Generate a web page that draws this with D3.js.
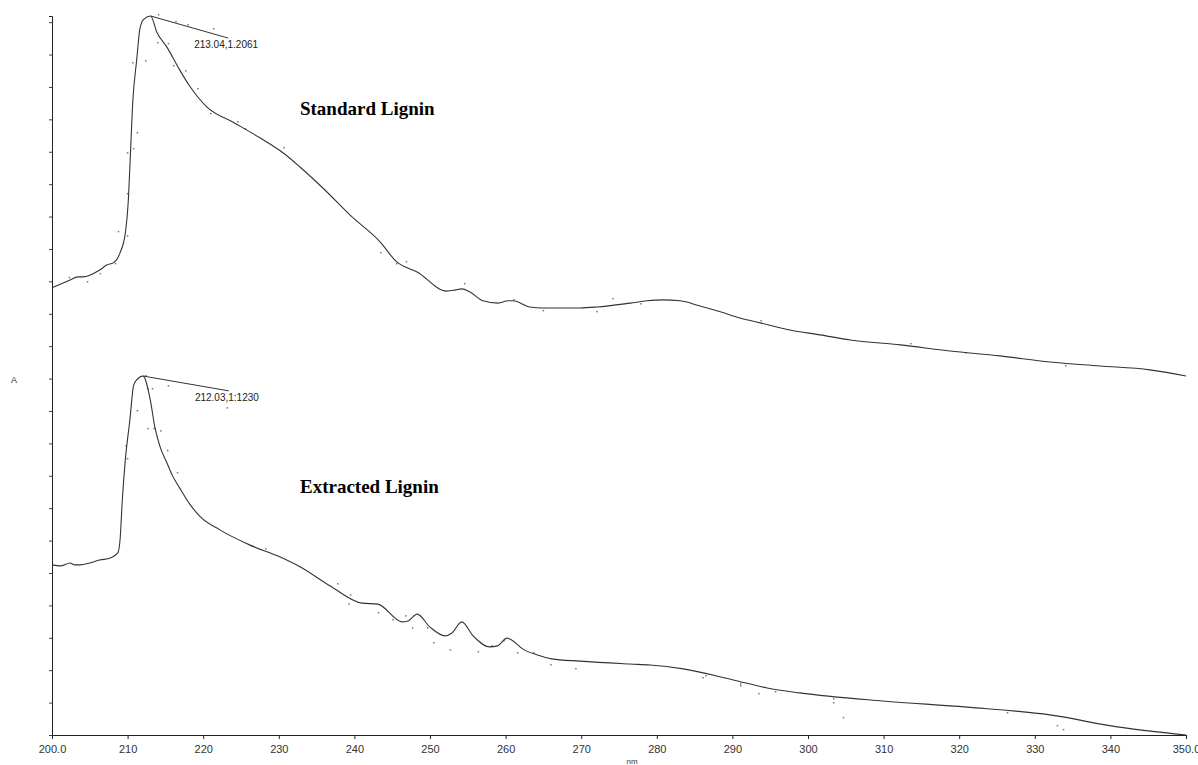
<!DOCTYPE html>
<meta charset="utf-8">
<html>
<script src="https://d3js.org/d3.v7.min.js"></script>
<style>
  body { margin: 0; background: #fff; }
</style>
<div id="uv"></div>
<script>

// wavelength (nm) and absorbance in chart units (traces are offset)
var stdNm  = [200.0,202.4,203.4,204.1,206.3,207.3,208.1,209.0,209.7,210.1,210.3,210.7,211.2,211.6,211.9,212.2,213.04,213.9,215.2,216.9,218.3,220.5,223.9,227.5,230.6,232.8,236.1,239.4,243.4,245.6,248.3,252.2,253.3,254.2,255.3,257.0,259.0,260.3,261.0,263.2,264.9,269.8,272.1,276.5,278.7,280.8,283.1,285.7,288.4,291.0,293.7,297.6,301.6,305.6,312.2,318.8,325.4,332.0,338.6,345.2,350.0];
var stdAbs = [13.80,14.04,14.14,14.14,14.35,14.51,14.57,14.88,15.49,16.51,17.53,19.60,20.83,21.76,22.01,22.10,22.19,21.67,21.23,20.52,20.00,19.38,18.92,18.43,17.96,17.53,16.82,16.05,15.22,14.60,14.29,13.70,13.73,13.77,13.67,13.40,13.33,13.40,13.40,13.21,13.18,13.18,13.21,13.33,13.40,13.43,13.40,13.24,13.06,12.87,12.72,12.50,12.35,12.19,12.04,11.85,11.70,11.51,11.39,11.27,11.08];

var extNm  = [200.0,201.1,202.4,203.0,203.7,205.0,206.3,207.7,208.7,209.0,209.3,209.7,210.3,210.8,211.2,212.03,213.0,213.6,214.3,215.2,215.9,216.9,218.3,219.6,222.2,226.2,230.2,232.8,236.8,241.0,243.1,246.3,247.1,248.3,250.0,252.0,252.9,254.2,255.7,257.9,258.9,260.2,260.8,262.3,264.2,266.1,269.8,276.5,279.1,283.5,290.1,294.6,298.9,309.9,321.0,332.0,340.9,350.0];
var extAbs = [5.25,5.22,5.31,5.25,5.25,5.31,5.40,5.46,5.62,6.02,7.25,8.49,9.72,10.80,10.96,11.08,10.34,9.51,8.89,8.40,8.02,7.62,7.10,6.74,6.33,5.86,5.49,5.19,4.60,4.07,4.04,3.49,3.52,3.73,3.33,3.06,3.15,3.49,3.06,2.72,2.75,2.99,2.93,2.65,2.47,2.35,2.28,2.19,2.16,2.04,1.70,1.45,1.30,1.05,0.86,0.62,0.25,0.00];

// raw scan points scattered around the smoothed traces
var stdDotNm  = [214.0,216.3,217.9,221.3,210.6,212.3,213.9,215.3,216.0,217.6,219.2,220.9,224.5,225.5,230.6,209.9,210.7,211.2,209.9,208.7,209.9,202.2,204.6,206.3,208.3,243.4,245.5,246.8,254.5,261.0,264.9,272.0,274.1,277.8,293.7,313.5,320.8,334.0];
var stdDotAbs = [22.25,22.04,21.94,21.82,20.77,20.83,21.39,21.36,20.68,20.52,19.97,19.20,18.95,18.73,18.15,17.99,18.12,18.61,16.73,15.56,15.43,14.14,14.01,14.26,14.57,14.91,14.57,14.63,13.95,13.46,13.12,13.09,13.49,13.33,12.81,12.10,11.82,11.42];
var extDotNm  = [212.3,212.6,213.2,209.7,209.9,211.2,213.4,214.3,215.2,216.5,223.1,215.3,212.6,228.2,237.7,239.4,239.2,243.1,245.0,246.7,247.6,249.6,250.4,252.6,256.3,258.1,259.7,261.5,263.6,265.9,269.2,286.0,286.4,291.0,291.0,293.4,295.6,303.3,303.3,304.6,326.3,332.9,333.7,349.2];
var extDotAbs = [11.11,10.71,10.71,8.95,8.55,10.03,9.48,9.41,8.80,8.12,10.12,10.80,9.48,5.77,4.69,4.35,4.07,3.80,3.58,3.70,3.33,3.33,2.87,2.65,2.59,2.78,2.93,2.56,2.56,2.19,2.07,1.79,1.85,1.54,1.60,1.30,1.36,1.14,1.02,0.56,0.71,0.31,0.19];

// peak markers: peak position, end of leader line, label
var peakNm    = [213.04, 212.03];
var peakAbs   = [22.19, 11.08];
var leaderNm  = [223.3, 223.4];
var leaderAbs = [21.51, 10.62];
var peakText  = ["213.04,1.2061", "212.03,1:1230"];

var traceNames = ["Standard Lignin", "Extracted Lignin"];
var nameNm  = [232.8, 232.8];
var nameAbs = [19.15, 7.48];

var xTicks = d3.range(200, 351, 10);
var yTicks = d3.range(0, 23, 1);

var width = 1198,
    height = 765;

var svg = d3.select("#uv")
  .append("svg")
    .attr("width", width)
    .attr("height", height);

var x = d3.scaleLinear().domain([200, 350]).range([52, 1186]);
var y = d3.scaleLinear().domain([0, 22.19]).range([735, 16]);

// axes
var xAxis = d3.axisBottom(x)
  .tickValues(xTicks)
  .tickSize(4)
  .tickFormat(function(d) { return (d == 200 || d == 350) ? d3.format(".1f")(d) : d; });

var gx = svg.append("g")
  .attr("transform", "translate(0," + y(0) + ")")
  .call(xAxis);
gx.select(".domain").attr("stroke", "#222");
gx.selectAll(".tick line").attr("stroke", "#222");
gx.selectAll(".tick text")
  .attr("dy", "1em")
  .style("font-family", "Liberation Sans")
  .style("font-size", "11px")
  .attr("fill", "#333");

var yAxis = d3.axisLeft(y)
  .tickValues(yTicks)
  .tickSize(3)
  .tickSizeOuter(3)
  .tickFormat("");

var gy = svg.append("g")
  .attr("transform", "translate(" + x(200) + ",0)")
  .call(yAxis);
gy.select(".domain").attr("stroke", "#222");
gy.selectAll(".tick line").attr("stroke", "#444");

svg.append("text")
  .attr("x", 14)
  .attr("y", 383)
  .attr("text-anchor", "middle")
  .style("font-family", "Liberation Sans")
  .style("font-size", "9px")
  .attr("fill", "#333")
  .text("A");

svg.append("text")
  .attr("x", 632)
  .attr("y", 764)
  .attr("text-anchor", "middle")
  .style("font-family", "Liberation Sans")
  .style("font-size", "8px")
  .attr("fill", "#333")
  .text("nm");

// raw points
function dots(nm, ab) {
  svg.append("g").selectAll("rect")
    .data(d3.zip(nm, ab))
    .enter().append("rect")
      .attr("x", function(d) { return x(d[0]); })
      .attr("y", function(d) { return y(d[1]); })
      .attr("width", 1.5)
      .attr("height", 1.5)
      .attr("fill", "#777");
}
dots(stdDotNm, stdDotAbs);
dots(extDotNm, extDotAbs);

// traces
var line = d3.line()
  .x(function(d) { return x(d[0]); })
  .y(function(d) { return y(d[1]); })
  .curve(d3.curveMonotoneX);

[[stdNm, stdAbs], [extNm, extAbs]].forEach(function(t) {
  svg.append("path")
    .datum(d3.zip(t[0], t[1]))
    .attr("d", line)
    .attr("fill", "none")
    .attr("stroke", "#333")
    .attr("stroke-width", 1.1);
});

// peak leaders and labels
peakNm.forEach(function(p, i) {
  svg.append("line")
    .attr("x1", x(p)).attr("y1", y(peakAbs[i]))
    .attr("x2", x(leaderNm[i])).attr("y2", y(leaderAbs[i]))
    .attr("stroke", "#333")
    .attr("stroke-width", 1);
  svg.append("text")
    .attr("x", x(leaderNm[i]) - 34)
    .attr("y", y(leaderAbs[i]) + 10)
    .style("font-family", "Liberation Sans")
    .style("font-size", "10px")
    .attr("fill", "#222")
    .text(peakText[i]);
});

// trace names
traceNames.forEach(function(n, i) {
  svg.append("text")
    .attr("x", x(nameNm[i]))
    .attr("y", y(nameAbs[i]))
    .style("font-family", "Liberation Serif")
    .style("font-weight", "bold")
    .style("font-size", "19px")
    .attr("fill", "#000")
    .text(n);
});
</script>
</html>
